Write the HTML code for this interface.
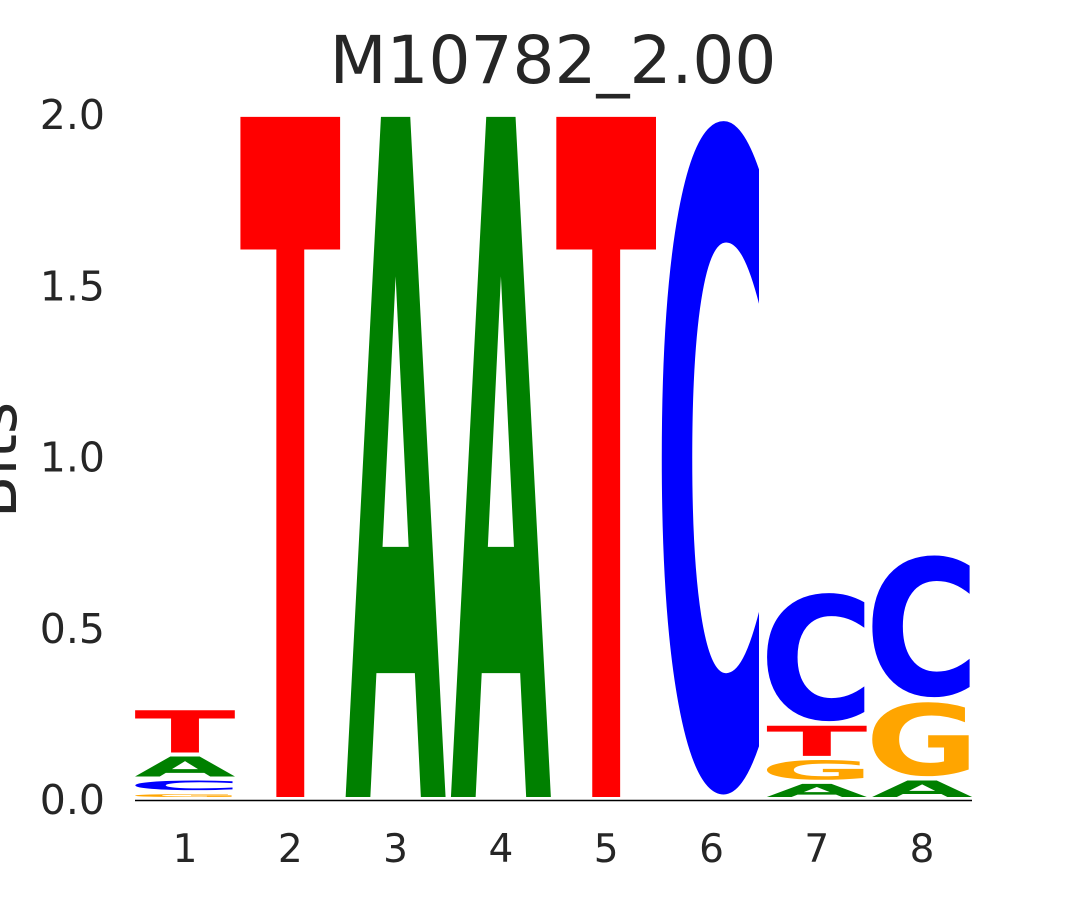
<!DOCTYPE html>
<html><head><meta charset="utf-8"><style>
html,body{margin:0;padding:0;background:#fff;overflow:hidden;width:1080px;height:900px;}
svg{display:block;font-family:"DejaVu Sans","Liberation Sans",sans-serif;}
</style></head><body>
<svg id="chart" width="1080" height="900" viewBox="0 0 1080 900">
<text x="553" y="83" font-size="66" text-anchor="middle" fill="#262626">M10782_2.00</text>
<text transform="translate(16,460) rotate(-90)" font-size="62" text-anchor="middle" fill="#262626">Bits</text>
<line x1="135" y1="800.5" x2="972" y2="800.5" stroke="#000" stroke-width="1.5"/>
<g id="yticks"></g><g id="xticks"></g><g id="letters"></g>
</svg>
<script>
const positions = [1,2,3,4,5,6,7,8];
const letterA = [0.07,0,2.0,2.0,0,0,0.05,0.06];
const letterC = [0.04,0,0,0,0,2.0,0.39,0.43];
const letterG = [0.02,0,0,0,0,0,0.07,0.23];
const letterT = [0.135,2.0,0,0,2.0,0,0.10,0];
const yTicks = [0,0.5,1,1.5,2];
const yTickLabels = ["0.0","0.5","1.0","1.5","2.0"];

const NS="http://www.w3.org/2000/svg";
const y = v => 800 - v*342.5;
const x = p => 185 + (p-1)*105.3;
const colors={A:"#008000",C:"#0000ff",G:"#ffa500",T:"#ff0000"};
const capH={A:73,T:73,C:76.5,G:76.5};
const base={A:0,T:0,C:1.7,G:1.7};
const wDiv={A:83,T:83,C:73,G:74};
const yg=document.getElementById('yticks');
yTicks.forEach((t,i)=>{
  const e=document.createElementNS(NS,'text');
  
  
  e.setAttribute('x',105);e.setAttribute('y',y(t)+14);
  e.setAttribute('font-size','41');e.setAttribute('text-anchor','end');e.setAttribute('fill','#262626');
  e.textContent=yTickLabels[i];yg.appendChild(e);
});
const xg=document.getElementById('xticks');
positions.forEach(p=>{
  const e=document.createElementNS(NS,'text');
  
  
  e.setAttribute('x',x(p));e.setAttribute('y',862);
  e.setAttribute('font-size','39');e.setAttribute('text-anchor','middle');e.setAttribute('fill','#262626');
  e.textContent=p;xg.appendChild(e);
});
const lg=document.getElementById('letters');
positions.forEach((p,i)=>{
  const stack=[['A',letterA[i]],['C',letterC[i]],['G',letterG[i]],['T',letterT[i]]].filter(s=>s[1]>0).sort((a,b)=>a[1]-b[1]);
  let cum=0;
  stack.forEach(([L,h])=>{
    const bot=y(cum)-3, top=y(cum+h)+1; cum+=h;
    const ht=(bot-top); if(ht<=0) return;
    const w=100;
    const sy=ht/capH[L];
    const e=document.createElementNS(NS,'text');
    
    
    e.setAttribute('font-size','100');e.setAttribute('font-weight','bold');
    e.setAttribute('text-anchor','middle');
    e.setAttribute('textLength','84');e.setAttribute('lengthAdjust','spacingAndGlyphs');
    e.setAttribute('fill',colors[L]);
    e.setAttribute('transform',`translate(${x(p)},${bot-base[L]*sy}) scale(${w/wDiv[L]},${sy})`);
    e.textContent=L;lg.appendChild(e);
  });
});
</script>
</body></html>
